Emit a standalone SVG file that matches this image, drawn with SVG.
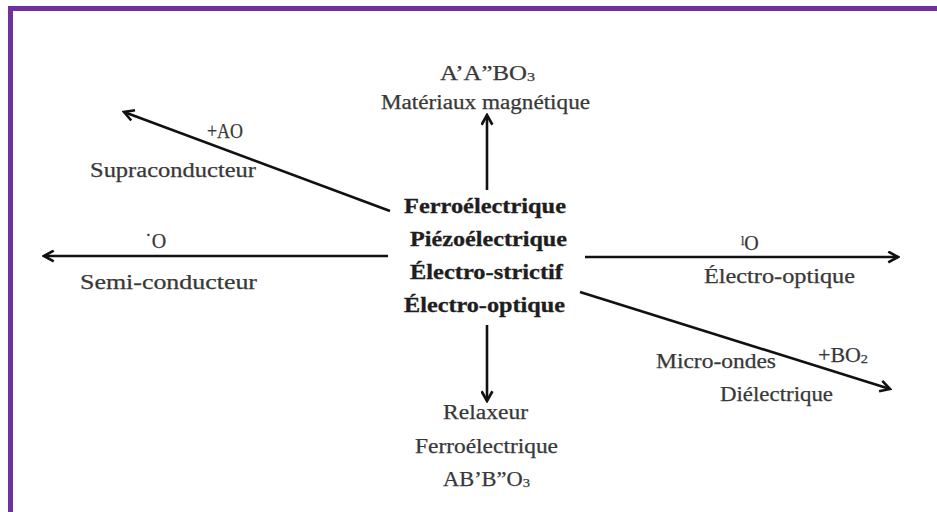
<svg xmlns="http://www.w3.org/2000/svg" width="937" height="512" viewBox="0 0 937 512">
<style>
.t{font-family:"Liberation Serif","Times New Roman",serif;font-size:20px;fill:#383838;stroke:#383838;stroke-width:0.25}
.b{font-family:"Liberation Serif","Times New Roman",serif;font-size:20px;font-weight:bold;fill:#1e1e1e;stroke:#1e1e1e;stroke-width:0.3}
.s{font-size:13px}
.c{stroke:#111;stroke-width:2.6;fill:none}
</style>
<defs>
<marker id="ah" viewBox="0 0 12 12" refX="10" refY="6" markerWidth="5" markerHeight="5" orient="auto" markerUnits="strokeWidth">
<path d="M1,1 L10,6 L1,11" fill="none" stroke="#111" stroke-width="2.4" stroke-linejoin="miter"/>
</marker>
</defs>
<rect x="0" y="0" width="937" height="512" fill="#ffffff"/>
<g id="frame">
<rect x="8" y="6" width="929" height="5" fill="#7030a0"/>
<rect x="8" y="6" width="5" height="506" fill="#7030a0"/>
</g>
<g id="connectors">
<line class="c" x1="487" y1="190" x2="487" y2="115" marker-end="url(#ah)"/>
<line class="c" x1="487" y1="325" x2="487" y2="401" marker-end="url(#ah)"/>
<line class="c" x1="388" y1="256" x2="44" y2="256" marker-end="url(#ah)"/>
<line class="c" x1="585" y1="257" x2="898" y2="257" marker-end="url(#ah)"/>
<line class="c" x1="390" y1="211" x2="124" y2="112" marker-end="url(#ah)"/>
<line class="c" x1="580" y1="292" x2="890" y2="389" marker-end="url(#ah)"/>
</g>
<g id="centre">
<text class="b" x="404" y="213" textLength="162" lengthAdjust="spacingAndGlyphs">Ferroélectrique</text>
<text class="b" x="410" y="246" textLength="157" lengthAdjust="spacingAndGlyphs">Piézoélectrique</text>
<text class="b" x="410" y="279" textLength="153" lengthAdjust="spacingAndGlyphs">Électro-strictif</text>
<text class="b" x="404" y="312" textLength="161" lengthAdjust="spacingAndGlyphs">Électro-optique</text>
</g>
<g id="top">
<text class="t" x="440" y="80" textLength="95" lengthAdjust="spacingAndGlyphs">A’A”BO<tspan class="s" dy="1">3</tspan></text>
<text class="t" x="381" y="109" textLength="209" lengthAdjust="spacingAndGlyphs">Matériaux magnétique</text>
</g>
<g id="upper-left">
<text class="t" x="207" y="138" textLength="36" lengthAdjust="spacingAndGlyphs">+AO</text>
<text class="t" x="90" y="177" textLength="166" lengthAdjust="spacingAndGlyphs">Supraconducteur</text>
</g>
<g id="left">
<text class="t" x="145" y="248">˙O</text>
<text class="t" x="80" y="289" textLength="177" lengthAdjust="spacingAndGlyphs">Semi-conducteur</text>
</g>
<g id="right">
<text class="t" x="741" y="250">ˡO</text>
<text class="t" x="704" y="283" textLength="151" lengthAdjust="spacingAndGlyphs">Électro-optique</text>
</g>
<g id="lower-right">
<text class="t" x="656" y="368" textLength="120" lengthAdjust="spacingAndGlyphs">Micro-ondes</text>
<text class="t" x="818" y="362" textLength="50" lengthAdjust="spacingAndGlyphs">+BO<tspan class="s" dy="1">2</tspan></text>
<text class="t" x="720" y="401" textLength="113" lengthAdjust="spacingAndGlyphs">Diélectrique</text>
</g>
<g id="bottom">
<text class="t" x="443" y="419" textLength="85" lengthAdjust="spacingAndGlyphs">Relaxeur</text>
<text class="t" x="415" y="453" textLength="143" lengthAdjust="spacingAndGlyphs">Ferroélectrique</text>
<text class="t" x="443" y="486" textLength="87" lengthAdjust="spacingAndGlyphs">AB’B”O<tspan class="s" dy="1">3</tspan></text>
</g>
</svg>
